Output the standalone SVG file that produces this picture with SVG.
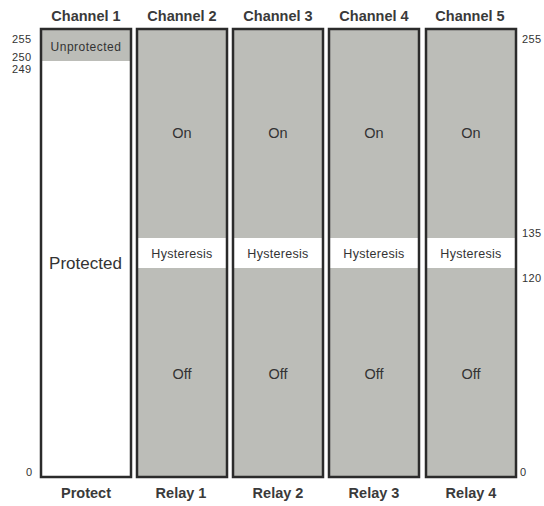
<svg xmlns="http://www.w3.org/2000/svg" width="544" height="506" viewBox="0 0 544 506">
<style>
text{font-family:"Liberation Sans",Arial,sans-serif;fill:#333}
.title{font-size:14.5px;font-weight:bold;text-anchor:middle;fill:#3a3a3a}
.num{font-size:11px;letter-spacing:0.4px}
.lbl{font-size:14.5px;text-anchor:middle}
.small{font-size:12.5px;letter-spacing:0.3px;text-anchor:middle}
.box{fill:none;stroke:#2b2b2b;stroke-width:2.5}
.gray{fill:#bcbdb8}
</style>
<rect width="544" height="506" fill="#fff"/>
<g id="channel1">
<text class="title" x="86" y="21">Channel 1</text>
<rect x="41" y="29" width="90" height="448" fill="#fff"/>
<rect class="gray" x="41" y="29" width="90" height="32"/>
<text class="small" x="86" y="51" style="font-size:12px;letter-spacing:0.5px">Unprotected</text>
<text class="lbl" x="85.5" y="269" style="font-size:17px">Protected</text>
<rect class="box" x="41" y="29" width="90" height="448"/>
<text class="title" x="86" y="498">Protect</text>
</g>
<g id="channel2">
<text class="title" x="182" y="21">Channel 2</text>
<rect class="gray" x="137" y="29" width="90" height="448"/>
<rect x="137" y="238" width="90" height="30" fill="#fff"/>
<text class="lbl" x="182" y="137.5">On</text>
<text class="small" x="182" y="257.5">Hysteresis</text>
<text class="lbl" x="182" y="379">Off</text>
<rect class="box" x="137" y="29" width="90" height="448"/>
<text class="title" x="181" y="498">Relay 1</text>
</g>
<g id="channel3">
<text class="title" x="278" y="21">Channel 3</text>
<rect class="gray" x="233" y="29" width="90" height="448"/>
<rect x="233" y="238" width="90" height="30" fill="#fff"/>
<text class="lbl" x="278" y="137.5">On</text>
<text class="small" x="278" y="257.5">Hysteresis</text>
<text class="lbl" x="278" y="379">Off</text>
<rect class="box" x="233" y="29" width="90" height="448"/>
<text class="title" x="278" y="498">Relay 2</text>
</g>
<g id="channel4">
<text class="title" x="374" y="21">Channel 4</text>
<rect class="gray" x="329" y="29" width="90" height="448"/>
<rect x="329" y="238" width="90" height="30" fill="#fff"/>
<text class="lbl" x="374" y="137.5">On</text>
<text class="small" x="374" y="257.5">Hysteresis</text>
<text class="lbl" x="374" y="379">Off</text>
<rect class="box" x="329" y="29" width="90" height="448"/>
<text class="title" x="374" y="498">Relay 3</text>
</g>
<g id="channel5">
<text class="title" x="470" y="21">Channel 5</text>
<rect class="gray" x="426" y="29" width="90" height="448"/>
<rect x="426" y="238" width="90" height="30" fill="#fff"/>
<text class="lbl" x="471" y="137.5">On</text>
<text class="small" x="471" y="257.5">Hysteresis</text>
<text class="lbl" x="471" y="379">Off</text>
<rect class="box" x="426" y="29" width="90" height="448"/>
<text class="title" x="471" y="498">Relay 4</text>
</g>
<g id="scale">
<text class="num" x="12" y="42.5">255</text>
<text class="num" x="12" y="61">250</text>
<text class="num" x="12" y="73">249</text>
<text class="num" x="26" y="476">0</text>
<text class="num" x="522" y="42.5">255</text>
<text class="num" x="522" y="236.5">135</text>
<text class="num" x="522" y="281.5">120</text>
<text class="num" x="520" y="476">0</text>
</g>
</svg>
